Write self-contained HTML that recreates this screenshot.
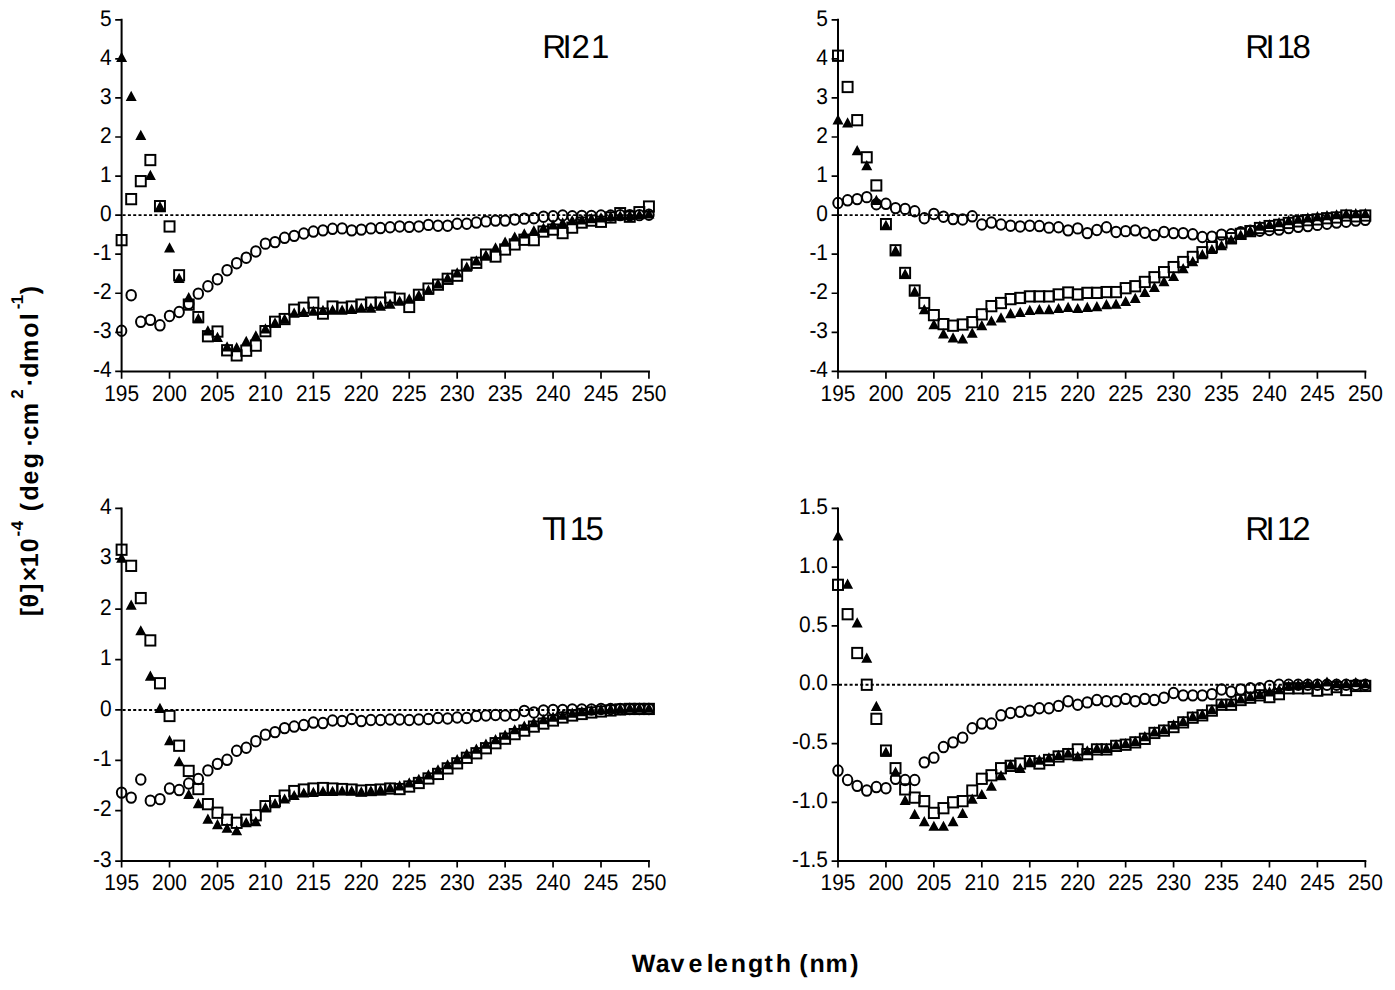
<!DOCTYPE html>
<html lang="en"><head><meta charset="utf-8"><title>CD spectra</title>
<style>
html,body{margin:0;padding:0;background:#fff}
body{width:1395px;height:990px;overflow:hidden}
svg{display:block;font-family:"Liberation Sans",Arial,Helvetica,sans-serif;fill:#000}
</style></head><body>
<svg width="1395" height="990" viewBox="0 0 1395 990" text-rendering="geometricPrecision">
<rect width="1395" height="990" fill="#fff"/>
<g><path d="M121.6 18.8V372.4M120.6 371.4H649.94" stroke="#000" stroke-width="2" fill="none"/>
<path d="M115.2 19.8H121.6M115.2 58.87H121.6M115.2 97.93H121.6M115.2 137H121.6M115.2 176.07H121.6M115.2 215.13H121.6M115.2 254.2H121.6M115.2 293.27H121.6M115.2 332.33H121.6M115.2 371.4H121.6M121.6 371.4V378.7M169.54 371.4V378.7M217.48 371.4V378.7M265.42 371.4V378.7M313.36 371.4V378.7M361.3 371.4V378.7M409.24 371.4V378.7M457.18 371.4V378.7M505.12 371.4V378.7M553.06 371.4V378.7M601 371.4V378.7M648.94 371.4V378.7" stroke="#000" stroke-width="1.7" fill="none"/>
<path d="M122.6 215.13H648.94" stroke="#000" stroke-width="1.9" stroke-dasharray="3 2.3" fill="none"/>
<g font-size="22.6"><text transform="translate(111.6 25.5) scale(0.925 1)" text-anchor="end">5</text><text transform="translate(111.6 64.57) scale(0.925 1)" text-anchor="end">4</text><text transform="translate(111.6 103.63) scale(0.925 1)" text-anchor="end">3</text><text transform="translate(111.6 142.7) scale(0.925 1)" text-anchor="end">2</text><text transform="translate(111.6 181.77) scale(0.925 1)" text-anchor="end">1</text><text transform="translate(111.6 220.83) scale(0.925 1)" text-anchor="end">0</text><text transform="translate(111.6 259.9) scale(0.925 1)" text-anchor="end">-1</text><text transform="translate(111.6 298.97) scale(0.925 1)" text-anchor="end">-2</text><text transform="translate(111.6 338.03) scale(0.925 1)" text-anchor="end">-3</text><text transform="translate(111.6 377.1) scale(0.925 1)" text-anchor="end">-4</text><text transform="translate(121.6 400.9) scale(0.925 1)" text-anchor="middle">195</text><text transform="translate(169.54 400.9) scale(0.925 1)" text-anchor="middle">200</text><text transform="translate(217.48 400.9) scale(0.925 1)" text-anchor="middle">205</text><text transform="translate(265.42 400.9) scale(0.925 1)" text-anchor="middle">210</text><text transform="translate(313.36 400.9) scale(0.925 1)" text-anchor="middle">215</text><text transform="translate(361.3 400.9) scale(0.925 1)" text-anchor="middle">220</text><text transform="translate(409.24 400.9) scale(0.925 1)" text-anchor="middle">225</text><text transform="translate(457.18 400.9) scale(0.925 1)" text-anchor="middle">230</text><text transform="translate(505.12 400.9) scale(0.925 1)" text-anchor="middle">235</text><text transform="translate(553.06 400.9) scale(0.925 1)" text-anchor="middle">240</text><text transform="translate(601 400.9) scale(0.925 1)" text-anchor="middle">245</text><text transform="translate(648.94 400.9) scale(0.925 1)" text-anchor="middle">250</text></g>
<text x="542.3 562.6 571.5 591.05" y="57.8" font-size="33">RI21</text>
<g fill="none" stroke="#000" stroke-width="2"><ellipse cx="121.6" cy="330.77" rx="4.75" ry="5.2"/><ellipse cx="131.19" cy="295.22" rx="4.75" ry="5.2"/><ellipse cx="140.78" cy="321.79" rx="4.75" ry="5.2"/><ellipse cx="150.36" cy="319.83" rx="4.75" ry="5.2"/><ellipse cx="159.95" cy="325.3" rx="4.75" ry="5.2"/><ellipse cx="169.54" cy="315.93" rx="4.75" ry="5.2"/><ellipse cx="179.13" cy="312.02" rx="4.75" ry="5.2"/><ellipse cx="188.72" cy="303.81" rx="4.75" ry="5.2"/><ellipse cx="198.3" cy="293.66" rx="4.75" ry="5.2"/><ellipse cx="207.89" cy="286.23" rx="4.75" ry="5.2"/><ellipse cx="217.48" cy="279.2" rx="4.75" ry="5.2"/><ellipse cx="227.07" cy="270.22" rx="4.75" ry="5.2"/><ellipse cx="236.66" cy="263.19" rx="4.75" ry="5.2"/><ellipse cx="246.24" cy="257.72" rx="4.75" ry="5.2"/><ellipse cx="255.83" cy="251.47" rx="4.75" ry="5.2"/><ellipse cx="265.42" cy="243.65" rx="4.75" ry="5.2"/><ellipse cx="275.01" cy="242.09" rx="4.75" ry="5.2"/><ellipse cx="284.6" cy="237.79" rx="4.75" ry="5.2"/><ellipse cx="294.18" cy="235.84" rx="4.75" ry="5.2"/><ellipse cx="303.77" cy="233.49" rx="4.75" ry="5.2"/><ellipse cx="313.36" cy="231.54" rx="4.75" ry="5.2"/><ellipse cx="322.95" cy="230.37" rx="4.75" ry="5.2"/><ellipse cx="332.54" cy="228.81" rx="4.75" ry="5.2"/><ellipse cx="342.12" cy="228.42" rx="4.75" ry="5.2"/><ellipse cx="351.71" cy="230.37" rx="4.75" ry="5.2"/><ellipse cx="361.3" cy="229.59" rx="4.75" ry="5.2"/><ellipse cx="370.89" cy="228.42" rx="4.75" ry="5.2"/><ellipse cx="380.48" cy="228.03" rx="4.75" ry="5.2"/><ellipse cx="390.06" cy="227.24" rx="4.75" ry="5.2"/><ellipse cx="399.65" cy="226.46" rx="4.75" ry="5.2"/><ellipse cx="409.24" cy="226.85" rx="4.75" ry="5.2"/><ellipse cx="418.83" cy="226.46" rx="4.75" ry="5.2"/><ellipse cx="428.42" cy="224.9" rx="4.75" ry="5.2"/><ellipse cx="438" cy="225.68" rx="4.75" ry="5.2"/><ellipse cx="447.59" cy="225.68" rx="4.75" ry="5.2"/><ellipse cx="457.18" cy="223.73" rx="4.75" ry="5.2"/><ellipse cx="466.77" cy="223.73" rx="4.75" ry="5.2"/><ellipse cx="476.36" cy="222.56" rx="4.75" ry="5.2"/><ellipse cx="485.94" cy="221.38" rx="4.75" ry="5.2"/><ellipse cx="495.53" cy="220.6" rx="4.75" ry="5.2"/><ellipse cx="505.12" cy="220.6" rx="4.75" ry="5.2"/><ellipse cx="514.71" cy="219.43" rx="4.75" ry="5.2"/><ellipse cx="524.3" cy="218.65" rx="4.75" ry="5.2"/><ellipse cx="533.88" cy="218.26" rx="4.75" ry="5.2"/><ellipse cx="543.47" cy="216.7" rx="4.75" ry="5.2"/><ellipse cx="553.06" cy="216.31" rx="4.75" ry="5.2"/><ellipse cx="562.65" cy="215.52" rx="4.75" ry="5.2"/><ellipse cx="572.24" cy="216.31" rx="4.75" ry="5.2"/><ellipse cx="581.82" cy="215.91" rx="4.75" ry="5.2"/><ellipse cx="591.41" cy="215.91" rx="4.75" ry="5.2"/><ellipse cx="601" cy="215.52" rx="4.75" ry="5.2"/><ellipse cx="610.59" cy="215.52" rx="4.75" ry="5.2"/><ellipse cx="620.18" cy="215.13" rx="4.75" ry="5.2"/><ellipse cx="629.76" cy="215.13" rx="4.75" ry="5.2"/><ellipse cx="639.35" cy="215.13" rx="4.75" ry="5.2"/><ellipse cx="648.94" cy="214.74" rx="4.75" ry="5.2"/></g>
<g fill="none" stroke="#000" stroke-width="1.95"><rect x="116.6" y="234.99" width="10" height="10.3"/><rect x="126.19" y="193.97" width="10" height="10.3"/><rect x="135.78" y="176" width="10" height="10.3"/><rect x="145.36" y="154.9" width="10" height="10.3"/><rect x="154.95" y="201" width="10" height="10.3"/><rect x="164.54" y="221.31" width="10" height="10.3"/><rect x="174.13" y="270.15" width="10" height="10.3"/><rect x="183.72" y="299.45" width="10" height="10.3"/><rect x="193.3" y="311.95" width="10" height="10.3"/><rect x="202.89" y="331.09" width="10" height="10.3"/><rect x="212.48" y="326.4" width="10" height="10.3"/><rect x="222.07" y="345.15" width="10" height="10.3"/><rect x="231.66" y="350.23" width="10" height="10.3"/><rect x="241.24" y="345.54" width="10" height="10.3"/><rect x="250.83" y="340.47" width="10" height="10.3"/><rect x="260.42" y="326.01" width="10" height="10.3"/><rect x="270.01" y="316.64" width="10" height="10.3"/><rect x="279.6" y="313.9" width="10" height="10.3"/><rect x="289.18" y="304.52" width="10" height="10.3"/><rect x="298.77" y="302.57" width="10" height="10.3"/><rect x="308.36" y="297.49" width="10" height="10.3"/><rect x="317.95" y="308.43" width="10" height="10.3"/><rect x="327.54" y="301.4" width="10" height="10.3"/><rect x="337.12" y="302.57" width="10" height="10.3"/><rect x="346.71" y="301.4" width="10" height="10.3"/><rect x="356.3" y="299.45" width="10" height="10.3"/><rect x="365.89" y="297.49" width="10" height="10.3"/><rect x="375.48" y="297.49" width="10" height="10.3"/><rect x="385.06" y="292.41" width="10" height="10.3"/><rect x="394.65" y="293.59" width="10" height="10.3"/><rect x="404.24" y="301.79" width="10" height="10.3"/><rect x="413.83" y="289.68" width="10" height="10.3"/><rect x="423.42" y="283.43" width="10" height="10.3"/><rect x="433" y="279.52" width="10" height="10.3"/><rect x="442.59" y="273.66" width="10" height="10.3"/><rect x="452.18" y="270.54" width="10" height="10.3"/><rect x="461.77" y="259.6" width="10" height="10.3"/><rect x="471.36" y="257.64" width="10" height="10.3"/><rect x="480.94" y="249.44" width="10" height="10.3"/><rect x="490.53" y="251.39" width="10" height="10.3"/><rect x="500.12" y="244.36" width="10" height="10.3"/><rect x="509.71" y="239.28" width="10" height="10.3"/><rect x="519.3" y="234.6" width="10" height="10.3"/><rect x="528.88" y="234.99" width="10" height="10.3"/><rect x="538.47" y="226.39" width="10" height="10.3"/><rect x="548.06" y="224.44" width="10" height="10.3"/><rect x="557.65" y="227.95" width="10" height="10.3"/><rect x="567.24" y="222.48" width="10" height="10.3"/><rect x="576.82" y="217.41" width="10" height="10.3"/><rect x="586.41" y="215.45" width="10" height="10.3"/><rect x="596" y="216.62" width="10" height="10.3"/><rect x="605.59" y="212.33" width="10" height="10.3"/><rect x="615.18" y="208.03" width="10" height="10.3"/><rect x="624.76" y="211.55" width="10" height="10.3"/><rect x="634.35" y="207.05" width="10" height="10.3"/><rect x="643.94" y="201.39" width="10" height="10.3"/></g>
<path d="M121.6 51.71l5.5 10.2h-11zM131.19 90.78l5.5 10.2h-11zM140.78 129.85l5.5 10.2h-11zM150.36 169.69l5.5 10.2h-11zM159.95 200.95l5.5 10.2h-11zM169.54 242.36l5.5 10.2h-11zM179.13 272.83l5.5 10.2h-11zM188.72 291.97l5.5 10.2h-11zM198.3 313.07l5.5 10.2h-11zM207.89 325.18l5.5 10.2h-11zM217.48 331.82l5.5 10.2h-11zM227.07 341.2l5.5 10.2h-11zM236.66 341.98l5.5 10.2h-11zM246.24 335.73l5.5 10.2h-11zM255.83 330.26l5.5 10.2h-11zM265.42 323.23l5.5 10.2h-11zM275.01 317.37l5.5 10.2h-11zM284.6 313.46l5.5 10.2h-11zM294.18 307.6l5.5 10.2h-11zM303.77 306.82l5.5 10.2h-11zM313.36 305.65l5.5 10.2h-11zM322.95 304.87l5.5 10.2h-11zM332.54 304.47l5.5 10.2h-11zM342.12 304.47l5.5 10.2h-11zM351.71 303.69l5.5 10.2h-11zM361.3 302.52l5.5 10.2h-11zM370.89 302.52l5.5 10.2h-11zM380.48 300.57l5.5 10.2h-11zM390.06 298.61l5.5 10.2h-11zM399.65 295.49l5.5 10.2h-11zM409.24 293.54l5.5 10.2h-11zM418.83 289.63l5.5 10.2h-11zM428.42 284.55l5.5 10.2h-11zM438 278.3l5.5 10.2h-11zM447.59 272.44l5.5 10.2h-11zM457.18 267.36l5.5 10.2h-11zM466.77 261.5l5.5 10.2h-11zM476.36 255.25l5.5 10.2h-11zM485.94 249.39l5.5 10.2h-11zM495.53 242.36l5.5 10.2h-11zM505.12 236.5l5.5 10.2h-11zM514.71 231.42l5.5 10.2h-11zM524.3 228.29l5.5 10.2h-11zM533.88 225.17l5.5 10.2h-11zM543.47 222.43l5.5 10.2h-11zM553.06 219.31l5.5 10.2h-11zM562.65 217.36l5.5 10.2h-11zM572.24 215.01l5.5 10.2h-11zM581.82 214.23l5.5 10.2h-11zM591.41 213.06l5.5 10.2h-11zM601 212.28l5.5 10.2h-11zM610.59 211.11l5.5 10.2h-11zM620.18 210.32l5.5 10.2h-11zM629.76 209.93l5.5 10.2h-11zM639.35 209.15l5.5 10.2h-11zM648.94 208.18l5.5 10.2h-11z" fill="#000"/></g>
<g><path d="M838 18.8V372.4M837 371.4H1366.34" stroke="#000" stroke-width="2" fill="none"/>
<path d="M831.6 19.8H838M831.6 58.87H838M831.6 97.93H838M831.6 137H838M831.6 176.07H838M831.6 215.13H838M831.6 254.2H838M831.6 293.27H838M831.6 332.33H838M831.6 371.4H838M838 371.4V378.7M885.94 371.4V378.7M933.88 371.4V378.7M981.82 371.4V378.7M1029.76 371.4V378.7M1077.7 371.4V378.7M1125.64 371.4V378.7M1173.58 371.4V378.7M1221.52 371.4V378.7M1269.46 371.4V378.7M1317.4 371.4V378.7M1365.34 371.4V378.7" stroke="#000" stroke-width="1.7" fill="none"/>
<path d="M839 215.13H1365.34" stroke="#000" stroke-width="1.9" stroke-dasharray="3 2.3" fill="none"/>
<g font-size="22.6"><text transform="translate(828 25.5) scale(0.925 1)" text-anchor="end">5</text><text transform="translate(828 64.57) scale(0.925 1)" text-anchor="end">4</text><text transform="translate(828 103.63) scale(0.925 1)" text-anchor="end">3</text><text transform="translate(828 142.7) scale(0.925 1)" text-anchor="end">2</text><text transform="translate(828 181.77) scale(0.925 1)" text-anchor="end">1</text><text transform="translate(828 220.83) scale(0.925 1)" text-anchor="end">0</text><text transform="translate(828 259.9) scale(0.925 1)" text-anchor="end">-1</text><text transform="translate(828 298.97) scale(0.925 1)" text-anchor="end">-2</text><text transform="translate(828 338.03) scale(0.925 1)" text-anchor="end">-3</text><text transform="translate(828 377.1) scale(0.925 1)" text-anchor="end">-4</text><text transform="translate(838 400.9) scale(0.925 1)" text-anchor="middle">195</text><text transform="translate(885.94 400.9) scale(0.925 1)" text-anchor="middle">200</text><text transform="translate(933.88 400.9) scale(0.925 1)" text-anchor="middle">205</text><text transform="translate(981.82 400.9) scale(0.925 1)" text-anchor="middle">210</text><text transform="translate(1029.76 400.9) scale(0.925 1)" text-anchor="middle">215</text><text transform="translate(1077.7 400.9) scale(0.925 1)" text-anchor="middle">220</text><text transform="translate(1125.64 400.9) scale(0.925 1)" text-anchor="middle">225</text><text transform="translate(1173.58 400.9) scale(0.925 1)" text-anchor="middle">230</text><text transform="translate(1221.52 400.9) scale(0.925 1)" text-anchor="middle">235</text><text transform="translate(1269.46 400.9) scale(0.925 1)" text-anchor="middle">240</text><text transform="translate(1317.4 400.9) scale(0.925 1)" text-anchor="middle">245</text><text transform="translate(1365.34 400.9) scale(0.925 1)" text-anchor="middle">250</text></g>
<text x="1245.2 1265.4 1276.7 1292.5" y="57.8" font-size="33">RI18</text>
<g fill="none" stroke="#000" stroke-width="2"><ellipse cx="838" cy="203.02" rx="4.75" ry="5.2"/><ellipse cx="847.59" cy="200.29" rx="4.75" ry="5.2"/><ellipse cx="857.18" cy="199.12" rx="4.75" ry="5.2"/><ellipse cx="866.76" cy="197.16" rx="4.75" ry="5.2"/><ellipse cx="876.35" cy="204.19" rx="4.75" ry="5.2"/><ellipse cx="885.94" cy="203.8" rx="4.75" ry="5.2"/><ellipse cx="895.53" cy="208.1" rx="4.75" ry="5.2"/><ellipse cx="905.12" cy="208.88" rx="4.75" ry="5.2"/><ellipse cx="914.7" cy="211.23" rx="4.75" ry="5.2"/><ellipse cx="924.29" cy="218.26" rx="4.75" ry="5.2"/><ellipse cx="933.88" cy="213.96" rx="4.75" ry="5.2"/><ellipse cx="943.47" cy="216.7" rx="4.75" ry="5.2"/><ellipse cx="953.06" cy="219.04" rx="4.75" ry="5.2"/><ellipse cx="962.64" cy="219.43" rx="4.75" ry="5.2"/><ellipse cx="972.23" cy="216.31" rx="4.75" ry="5.2"/><ellipse cx="981.82" cy="224.51" rx="4.75" ry="5.2"/><ellipse cx="991.41" cy="222.56" rx="4.75" ry="5.2"/><ellipse cx="1001" cy="224.51" rx="4.75" ry="5.2"/><ellipse cx="1010.58" cy="225.68" rx="4.75" ry="5.2"/><ellipse cx="1020.17" cy="226.46" rx="4.75" ry="5.2"/><ellipse cx="1029.76" cy="225.68" rx="4.75" ry="5.2"/><ellipse cx="1039.35" cy="226.07" rx="4.75" ry="5.2"/><ellipse cx="1048.94" cy="227.63" rx="4.75" ry="5.2"/><ellipse cx="1058.52" cy="227.24" rx="4.75" ry="5.2"/><ellipse cx="1068.11" cy="230.37" rx="4.75" ry="5.2"/><ellipse cx="1077.7" cy="228.42" rx="4.75" ry="5.2"/><ellipse cx="1087.29" cy="233.1" rx="4.75" ry="5.2"/><ellipse cx="1096.88" cy="229.98" rx="4.75" ry="5.2"/><ellipse cx="1106.46" cy="227.24" rx="4.75" ry="5.2"/><ellipse cx="1116.05" cy="231.93" rx="4.75" ry="5.2"/><ellipse cx="1125.64" cy="231.15" rx="4.75" ry="5.2"/><ellipse cx="1135.23" cy="230.37" rx="4.75" ry="5.2"/><ellipse cx="1144.82" cy="232.71" rx="4.75" ry="5.2"/><ellipse cx="1154.4" cy="235.06" rx="4.75" ry="5.2"/><ellipse cx="1163.99" cy="231.93" rx="4.75" ry="5.2"/><ellipse cx="1173.58" cy="233.1" rx="4.75" ry="5.2"/><ellipse cx="1183.17" cy="233.1" rx="4.75" ry="5.2"/><ellipse cx="1192.76" cy="234.28" rx="4.75" ry="5.2"/><ellipse cx="1202.34" cy="237.01" rx="4.75" ry="5.2"/><ellipse cx="1211.93" cy="236.62" rx="4.75" ry="5.2"/><ellipse cx="1221.52" cy="234.67" rx="4.75" ry="5.2"/><ellipse cx="1231.11" cy="234.28" rx="4.75" ry="5.2"/><ellipse cx="1240.7" cy="232.32" rx="4.75" ry="5.2"/><ellipse cx="1250.28" cy="230.76" rx="4.75" ry="5.2"/><ellipse cx="1259.87" cy="230.76" rx="4.75" ry="5.2"/><ellipse cx="1269.46" cy="229.98" rx="4.75" ry="5.2"/><ellipse cx="1279.05" cy="229.59" rx="4.75" ry="5.2"/><ellipse cx="1288.64" cy="228.03" rx="4.75" ry="5.2"/><ellipse cx="1298.22" cy="226.85" rx="4.75" ry="5.2"/><ellipse cx="1307.81" cy="226.07" rx="4.75" ry="5.2"/><ellipse cx="1317.4" cy="224.9" rx="4.75" ry="5.2"/><ellipse cx="1326.99" cy="223.73" rx="4.75" ry="5.2"/><ellipse cx="1336.58" cy="222.56" rx="4.75" ry="5.2"/><ellipse cx="1346.16" cy="221.77" rx="4.75" ry="5.2"/><ellipse cx="1355.75" cy="220.6" rx="4.75" ry="5.2"/><ellipse cx="1365.34" cy="219.82" rx="4.75" ry="5.2"/></g>
<g fill="none" stroke="#000" stroke-width="1.95"><rect x="833" y="50.59" width="10" height="10.3"/><rect x="842.59" y="81.84" width="10" height="10.3"/><rect x="852.18" y="115.05" width="10" height="10.3"/><rect x="861.76" y="152.16" width="10" height="10.3"/><rect x="871.35" y="180.29" width="10" height="10.3"/><rect x="880.94" y="218.97" width="10" height="10.3"/><rect x="890.53" y="245.14" width="10" height="10.3"/><rect x="900.12" y="267.8" width="10" height="10.3"/><rect x="909.7" y="285.38" width="10" height="10.3"/><rect x="919.29" y="297.88" width="10" height="10.3"/><rect x="928.88" y="309.99" width="10" height="10.3"/><rect x="938.47" y="318.98" width="10" height="10.3"/><rect x="948.06" y="320.54" width="10" height="10.3"/><rect x="957.64" y="319.37" width="10" height="10.3"/><rect x="967.23" y="317.03" width="10" height="10.3"/><rect x="976.82" y="309.21" width="10" height="10.3"/><rect x="986.41" y="301.01" width="10" height="10.3"/><rect x="996" y="297.88" width="10" height="10.3"/><rect x="1005.58" y="293.98" width="10" height="10.3"/><rect x="1015.17" y="292.8" width="10" height="10.3"/><rect x="1024.76" y="291.24" width="10" height="10.3"/><rect x="1034.35" y="291.24" width="10" height="10.3"/><rect x="1043.94" y="291.24" width="10" height="10.3"/><rect x="1053.52" y="289.29" width="10" height="10.3"/><rect x="1063.11" y="287.34" width="10" height="10.3"/><rect x="1072.7" y="289.29" width="10" height="10.3"/><rect x="1082.29" y="287.73" width="10" height="10.3"/><rect x="1091.88" y="287.73" width="10" height="10.3"/><rect x="1101.46" y="286.94" width="10" height="10.3"/><rect x="1111.05" y="286.94" width="10" height="10.3"/><rect x="1120.64" y="283.04" width="10" height="10.3"/><rect x="1130.23" y="281.08" width="10" height="10.3"/><rect x="1139.82" y="276.79" width="10" height="10.3"/><rect x="1149.4" y="272.1" width="10" height="10.3"/><rect x="1158.99" y="267.02" width="10" height="10.3"/><rect x="1168.58" y="261.94" width="10" height="10.3"/><rect x="1178.17" y="256.86" width="10" height="10.3"/><rect x="1187.76" y="251.78" width="10" height="10.3"/><rect x="1197.34" y="247.1" width="10" height="10.3"/><rect x="1206.93" y="242.02" width="10" height="10.3"/><rect x="1216.52" y="237.33" width="10" height="10.3"/><rect x="1226.11" y="233.03" width="10" height="10.3"/><rect x="1235.7" y="228.74" width="10" height="10.3"/><rect x="1245.28" y="226" width="10" height="10.3"/><rect x="1254.87" y="222.88" width="10" height="10.3"/><rect x="1264.46" y="220.92" width="10" height="10.3"/><rect x="1274.05" y="219.75" width="10" height="10.3"/><rect x="1283.64" y="217.8" width="10" height="10.3"/><rect x="1293.22" y="216.23" width="10" height="10.3"/><rect x="1302.81" y="215.06" width="10" height="10.3"/><rect x="1312.4" y="214.28" width="10" height="10.3"/><rect x="1321.99" y="213.11" width="10" height="10.3"/><rect x="1331.58" y="212.33" width="10" height="10.3"/><rect x="1341.16" y="210.37" width="10" height="10.3"/><rect x="1350.75" y="211.16" width="10" height="10.3"/><rect x="1360.34" y="210.37" width="10" height="10.3"/></g>
<path d="M838 114.22l5.5 10.2h-11zM847.59 117.35l5.5 10.2h-11zM857.18 145.08l5.5 10.2h-11zM866.76 159.93l5.5 10.2h-11zM876.35 194.7l5.5 10.2h-11zM885.94 219.7l5.5 10.2h-11zM895.53 245.09l5.5 10.2h-11zM905.12 268.53l5.5 10.2h-11zM914.7 286.11l5.5 10.2h-11zM924.29 304.08l5.5 10.2h-11zM933.88 318.93l5.5 10.2h-11zM943.47 328.31l5.5 10.2h-11zM953.06 332.21l5.5 10.2h-11zM962.64 333.38l5.5 10.2h-11zM972.23 327.52l5.5 10.2h-11zM981.82 320.1l5.5 10.2h-11zM991.41 315.41l5.5 10.2h-11zM1001 312.29l5.5 10.2h-11zM1010.58 307.99l5.5 10.2h-11zM1020.17 306.82l5.5 10.2h-11zM1029.76 304.87l5.5 10.2h-11zM1039.35 304.08l5.5 10.2h-11zM1048.94 304.08l5.5 10.2h-11zM1058.52 302.91l5.5 10.2h-11zM1068.11 301.74l5.5 10.2h-11zM1077.7 302.91l5.5 10.2h-11zM1087.29 301.74l5.5 10.2h-11zM1096.88 300.96l5.5 10.2h-11zM1106.46 299.01l5.5 10.2h-11zM1116.05 298.61l5.5 10.2h-11zM1125.64 295.88l5.5 10.2h-11zM1135.23 292.75l5.5 10.2h-11zM1144.82 286.89l5.5 10.2h-11zM1154.4 281.82l5.5 10.2h-11zM1163.99 275.96l5.5 10.2h-11zM1173.58 270.88l5.5 10.2h-11zM1183.17 263.06l5.5 10.2h-11zM1192.76 256.03l5.5 10.2h-11zM1202.34 249l5.5 10.2h-11zM1211.93 243.92l5.5 10.2h-11zM1221.52 240.01l5.5 10.2h-11zM1231.11 234.15l5.5 10.2h-11zM1240.7 229.47l5.5 10.2h-11zM1250.28 225.17l5.5 10.2h-11zM1259.87 220.48l5.5 10.2h-11zM1269.46 218.92l5.5 10.2h-11zM1279.05 216.97l5.5 10.2h-11zM1288.64 215.01l5.5 10.2h-11zM1298.22 213.45l5.5 10.2h-11zM1307.81 212.28l5.5 10.2h-11zM1317.4 211.11l5.5 10.2h-11zM1326.99 209.93l5.5 10.2h-11zM1336.58 209.15l5.5 10.2h-11zM1346.16 208.37l5.5 10.2h-11zM1355.75 207.98l5.5 10.2h-11zM1365.34 207.98l5.5 10.2h-11z" fill="#000"/></g>
<g><path d="M121.6 507.4V862.1M120.6 861.1H649.94" stroke="#000" stroke-width="2" fill="none"/>
<path d="M115.2 508.4H121.6M115.2 558.79H121.6M115.2 609.17H121.6M115.2 659.56H121.6M115.2 709.94H121.6M115.2 760.33H121.6M115.2 810.71H121.6M115.2 861.1H121.6M121.6 861.1V867.5M169.54 861.1V867.5M217.48 861.1V867.5M265.42 861.1V867.5M313.36 861.1V867.5M361.3 861.1V867.5M409.24 861.1V867.5M457.18 861.1V867.5M505.12 861.1V867.5M553.06 861.1V867.5M601 861.1V867.5M648.94 861.1V867.5" stroke="#000" stroke-width="1.7" fill="none"/>
<path d="M122.6 709.94H648.94" stroke="#000" stroke-width="1.9" stroke-dasharray="3 2.3" fill="none"/>
<g font-size="22.6"><text transform="translate(111.6 514.1) scale(0.925 1)" text-anchor="end">4</text><text transform="translate(111.6 564.49) scale(0.925 1)" text-anchor="end">3</text><text transform="translate(111.6 614.87) scale(0.925 1)" text-anchor="end">2</text><text transform="translate(111.6 665.26) scale(0.925 1)" text-anchor="end">1</text><text transform="translate(111.6 715.64) scale(0.925 1)" text-anchor="end">0</text><text transform="translate(111.6 766.03) scale(0.925 1)" text-anchor="end">-1</text><text transform="translate(111.6 816.41) scale(0.925 1)" text-anchor="end">-2</text><text transform="translate(111.6 866.8) scale(0.925 1)" text-anchor="end">-3</text><text transform="translate(121.6 889.6) scale(0.925 1)" text-anchor="middle">195</text><text transform="translate(169.54 889.6) scale(0.925 1)" text-anchor="middle">200</text><text transform="translate(217.48 889.6) scale(0.925 1)" text-anchor="middle">205</text><text transform="translate(265.42 889.6) scale(0.925 1)" text-anchor="middle">210</text><text transform="translate(313.36 889.6) scale(0.925 1)" text-anchor="middle">215</text><text transform="translate(361.3 889.6) scale(0.925 1)" text-anchor="middle">220</text><text transform="translate(409.24 889.6) scale(0.925 1)" text-anchor="middle">225</text><text transform="translate(457.18 889.6) scale(0.925 1)" text-anchor="middle">230</text><text transform="translate(505.12 889.6) scale(0.925 1)" text-anchor="middle">235</text><text transform="translate(553.06 889.6) scale(0.925 1)" text-anchor="middle">240</text><text transform="translate(601 889.6) scale(0.925 1)" text-anchor="middle">245</text><text transform="translate(648.94 889.6) scale(0.925 1)" text-anchor="middle">250</text></g>
<text x="542.3 558.2 569.8 585.5" y="540.1" font-size="33">TI15</text>
<g fill="none" stroke="#000" stroke-width="2"><ellipse cx="121.6" cy="792.58" rx="4.75" ry="5.2"/><ellipse cx="131.19" cy="797.61" rx="4.75" ry="5.2"/><ellipse cx="140.78" cy="779.48" rx="4.75" ry="5.2"/><ellipse cx="150.36" cy="800.64" rx="4.75" ry="5.2"/><ellipse cx="159.95" cy="799.13" rx="4.75" ry="5.2"/><ellipse cx="169.54" cy="788.54" rx="4.75" ry="5.2"/><ellipse cx="179.13" cy="790.06" rx="4.75" ry="5.2"/><ellipse cx="188.72" cy="783.51" rx="4.75" ry="5.2"/><ellipse cx="198.3" cy="778.97" rx="4.75" ry="5.2"/><ellipse cx="207.89" cy="770.41" rx="4.75" ry="5.2"/><ellipse cx="217.48" cy="763.86" rx="4.75" ry="5.2"/><ellipse cx="227.07" cy="759.82" rx="4.75" ry="5.2"/><ellipse cx="236.66" cy="750.76" rx="4.75" ry="5.2"/><ellipse cx="246.24" cy="747.73" rx="4.75" ry="5.2"/><ellipse cx="255.83" cy="741.18" rx="4.75" ry="5.2"/><ellipse cx="265.42" cy="734.63" rx="4.75" ry="5.2"/><ellipse cx="275.01" cy="732.11" rx="4.75" ry="5.2"/><ellipse cx="284.6" cy="728.08" rx="4.75" ry="5.2"/><ellipse cx="294.18" cy="726.57" rx="4.75" ry="5.2"/><ellipse cx="303.77" cy="725.06" rx="4.75" ry="5.2"/><ellipse cx="313.36" cy="722.54" rx="4.75" ry="5.2"/><ellipse cx="322.95" cy="723.04" rx="4.75" ry="5.2"/><ellipse cx="332.54" cy="720.52" rx="4.75" ry="5.2"/><ellipse cx="342.12" cy="721.03" rx="4.75" ry="5.2"/><ellipse cx="351.71" cy="719.01" rx="4.75" ry="5.2"/><ellipse cx="361.3" cy="721.03" rx="4.75" ry="5.2"/><ellipse cx="370.89" cy="720.02" rx="4.75" ry="5.2"/><ellipse cx="380.48" cy="720.02" rx="4.75" ry="5.2"/><ellipse cx="390.06" cy="719.52" rx="4.75" ry="5.2"/><ellipse cx="399.65" cy="719.52" rx="4.75" ry="5.2"/><ellipse cx="409.24" cy="720.02" rx="4.75" ry="5.2"/><ellipse cx="418.83" cy="719.52" rx="4.75" ry="5.2"/><ellipse cx="428.42" cy="719.01" rx="4.75" ry="5.2"/><ellipse cx="438" cy="718" rx="4.75" ry="5.2"/><ellipse cx="447.59" cy="718.51" rx="4.75" ry="5.2"/><ellipse cx="457.18" cy="717.5" rx="4.75" ry="5.2"/><ellipse cx="466.77" cy="718" rx="4.75" ry="5.2"/><ellipse cx="476.36" cy="715.99" rx="4.75" ry="5.2"/><ellipse cx="485.94" cy="715.49" rx="4.75" ry="5.2"/><ellipse cx="495.53" cy="714.98" rx="4.75" ry="5.2"/><ellipse cx="505.12" cy="715.49" rx="4.75" ry="5.2"/><ellipse cx="514.71" cy="714.98" rx="4.75" ry="5.2"/><ellipse cx="524.3" cy="710.95" rx="4.75" ry="5.2"/><ellipse cx="533.88" cy="712.46" rx="4.75" ry="5.2"/><ellipse cx="543.47" cy="710.45" rx="4.75" ry="5.2"/><ellipse cx="553.06" cy="709.94" rx="4.75" ry="5.2"/><ellipse cx="562.65" cy="709.94" rx="4.75" ry="5.2"/><ellipse cx="572.24" cy="709.44" rx="4.75" ry="5.2"/><ellipse cx="581.82" cy="709.44" rx="4.75" ry="5.2"/><ellipse cx="591.41" cy="709.44" rx="4.75" ry="5.2"/><ellipse cx="601" cy="708.94" rx="4.75" ry="5.2"/><ellipse cx="610.59" cy="708.94" rx="4.75" ry="5.2"/><ellipse cx="620.18" cy="708.94" rx="4.75" ry="5.2"/><ellipse cx="629.76" cy="708.94" rx="4.75" ry="5.2"/><ellipse cx="639.35" cy="708.94" rx="4.75" ry="5.2"/><ellipse cx="648.94" cy="708.94" rx="4.75" ry="5.2"/></g>
<g fill="none" stroke="#000" stroke-width="1.95"><rect x="116.6" y="544.57" width="10" height="10.3"/><rect x="126.19" y="560.69" width="10" height="10.3"/><rect x="135.78" y="592.94" width="10" height="10.3"/><rect x="145.36" y="635.26" width="10" height="10.3"/><rect x="154.95" y="678.09" width="10" height="10.3"/><rect x="164.54" y="710.84" width="10" height="10.3"/><rect x="174.13" y="740.57" width="10" height="10.3"/><rect x="183.72" y="765.76" width="10" height="10.3"/><rect x="193.3" y="783.9" width="10" height="10.3"/><rect x="202.89" y="799.01" width="10" height="10.3"/><rect x="212.48" y="807.58" width="10" height="10.3"/><rect x="222.07" y="814.63" width="10" height="10.3"/><rect x="231.66" y="817.66" width="10" height="10.3"/><rect x="241.24" y="814.63" width="10" height="10.3"/><rect x="250.83" y="810.1" width="10" height="10.3"/><rect x="260.42" y="801.03" width="10" height="10.3"/><rect x="270.01" y="795.99" width="10" height="10.3"/><rect x="279.6" y="790.45" width="10" height="10.3"/><rect x="289.18" y="785.91" width="10" height="10.3"/><rect x="298.77" y="784.4" width="10" height="10.3"/><rect x="308.36" y="783.39" width="10" height="10.3"/><rect x="317.95" y="782.89" width="10" height="10.3"/><rect x="327.54" y="783.39" width="10" height="10.3"/><rect x="337.12" y="783.9" width="10" height="10.3"/><rect x="346.71" y="784.4" width="10" height="10.3"/><rect x="356.3" y="785.41" width="10" height="10.3"/><rect x="365.89" y="784.91" width="10" height="10.3"/><rect x="375.48" y="784.4" width="10" height="10.3"/><rect x="385.06" y="783.39" width="10" height="10.3"/><rect x="394.65" y="783.9" width="10" height="10.3"/><rect x="404.24" y="781.38" width="10" height="10.3"/><rect x="413.83" y="777.85" width="10" height="10.3"/><rect x="423.42" y="773.32" width="10" height="10.3"/><rect x="433" y="768.78" width="10" height="10.3"/><rect x="442.59" y="763.24" width="10" height="10.3"/><rect x="452.18" y="758.2" width="10" height="10.3"/><rect x="461.77" y="752.66" width="10" height="10.3"/><rect x="471.36" y="748.12" width="10" height="10.3"/><rect x="480.94" y="743.09" width="10" height="10.3"/><rect x="490.53" y="738.05" width="10" height="10.3"/><rect x="500.12" y="733.51" width="10" height="10.3"/><rect x="509.71" y="728.98" width="10" height="10.3"/><rect x="519.3" y="725.45" width="10" height="10.3"/><rect x="528.88" y="721.42" width="10" height="10.3"/><rect x="538.47" y="718.4" width="10" height="10.3"/><rect x="548.06" y="715.37" width="10" height="10.3"/><rect x="557.65" y="712.35" width="10" height="10.3"/><rect x="567.24" y="710.34" width="10" height="10.3"/><rect x="576.82" y="708.82" width="10" height="10.3"/><rect x="586.41" y="707.31" width="10" height="10.3"/><rect x="596" y="706.3" width="10" height="10.3"/><rect x="605.59" y="705.3" width="10" height="10.3"/><rect x="615.18" y="704.29" width="10" height="10.3"/><rect x="624.76" y="703.79" width="10" height="10.3"/><rect x="634.35" y="703.79" width="10" height="10.3"/><rect x="643.94" y="703.79" width="10" height="10.3"/></g>
<path d="M121.6 552.58l5.5 10.2h-11zM131.19 599.44l5.5 10.2h-11zM140.78 625.13l5.5 10.2h-11zM150.36 670.48l5.5 10.2h-11zM159.95 702.73l5.5 10.2h-11zM169.54 734.97l5.5 10.2h-11zM179.13 756.14l5.5 10.2h-11zM188.72 788.89l5.5 10.2h-11zM198.3 797.96l5.5 10.2h-11zM207.89 813.58l5.5 10.2h-11zM217.48 819.12l5.5 10.2h-11zM227.07 822.65l5.5 10.2h-11zM236.66 825.16l5.5 10.2h-11zM246.24 817.1l5.5 10.2h-11zM255.83 816.1l5.5 10.2h-11zM265.42 801.99l5.5 10.2h-11zM275.01 797.96l5.5 10.2h-11zM284.6 793.42l5.5 10.2h-11zM294.18 789.89l5.5 10.2h-11zM303.77 787.38l5.5 10.2h-11zM313.36 786.87l5.5 10.2h-11zM322.95 785.86l5.5 10.2h-11zM332.54 785.86l5.5 10.2h-11zM342.12 785.36l5.5 10.2h-11zM351.71 785.36l5.5 10.2h-11zM361.3 786.37l5.5 10.2h-11zM370.89 785.36l5.5 10.2h-11zM380.48 784.35l5.5 10.2h-11zM390.06 782.34l5.5 10.2h-11zM399.65 780.32l5.5 10.2h-11zM409.24 777.3l5.5 10.2h-11zM418.83 773.77l5.5 10.2h-11zM428.42 769.24l5.5 10.2h-11zM438 764.2l5.5 10.2h-11zM447.59 759.16l5.5 10.2h-11zM457.18 754.12l5.5 10.2h-11zM466.77 748.58l5.5 10.2h-11zM476.36 743.54l5.5 10.2h-11zM485.94 738.5l5.5 10.2h-11zM495.53 733.97l5.5 10.2h-11zM505.12 729.43l5.5 10.2h-11zM514.71 724.14l5.5 10.2h-11zM524.3 720.61l5.5 10.2h-11zM533.88 717.09l5.5 10.2h-11zM543.47 714.06l5.5 10.2h-11zM553.06 711.54l5.5 10.2h-11zM562.65 709.53l5.5 10.2h-11zM572.24 707.51l5.5 10.2h-11zM581.82 706l5.5 10.2h-11zM591.41 704.99l5.5 10.2h-11zM601 703.99l5.5 10.2h-11zM610.59 703.48l5.5 10.2h-11zM620.18 702.98l5.5 10.2h-11zM629.76 702.48l5.5 10.2h-11zM639.35 702.48l5.5 10.2h-11zM648.94 702.48l5.5 10.2h-11z" fill="#000"/></g>
<g><path d="M838 507.4V862.1M837 861.1H1366.34" stroke="#000" stroke-width="2" fill="none"/>
<path d="M831.6 508.4H838M831.6 567.18H838M831.6 625.97H838M831.6 684.75H838M831.6 743.53H838M831.6 802.32H838M831.6 861.1H838M838 861.1V867.5M885.94 861.1V867.5M933.88 861.1V867.5M981.82 861.1V867.5M1029.76 861.1V867.5M1077.7 861.1V867.5M1125.64 861.1V867.5M1173.58 861.1V867.5M1221.52 861.1V867.5M1269.46 861.1V867.5M1317.4 861.1V867.5M1365.34 861.1V867.5" stroke="#000" stroke-width="1.7" fill="none"/>
<path d="M839 684.75H1365.34" stroke="#000" stroke-width="1.9" stroke-dasharray="3 2.3" fill="none"/>
<g font-size="22.6"><text transform="translate(828 514.1) scale(0.925 1)" text-anchor="end">1.5</text><text transform="translate(828 572.88) scale(0.925 1)" text-anchor="end">1.0</text><text transform="translate(828 631.67) scale(0.925 1)" text-anchor="end">0.5</text><text transform="translate(828 690.45) scale(0.925 1)" text-anchor="end">0.0</text><text transform="translate(828 749.23) scale(0.925 1)" text-anchor="end">-0.5</text><text transform="translate(828 808.02) scale(0.925 1)" text-anchor="end">-1.0</text><text transform="translate(828 866.8) scale(0.925 1)" text-anchor="end">-1.5</text><text transform="translate(838 889.6) scale(0.925 1)" text-anchor="middle">195</text><text transform="translate(885.94 889.6) scale(0.925 1)" text-anchor="middle">200</text><text transform="translate(933.88 889.6) scale(0.925 1)" text-anchor="middle">205</text><text transform="translate(981.82 889.6) scale(0.925 1)" text-anchor="middle">210</text><text transform="translate(1029.76 889.6) scale(0.925 1)" text-anchor="middle">215</text><text transform="translate(1077.7 889.6) scale(0.925 1)" text-anchor="middle">220</text><text transform="translate(1125.64 889.6) scale(0.925 1)" text-anchor="middle">225</text><text transform="translate(1173.58 889.6) scale(0.925 1)" text-anchor="middle">230</text><text transform="translate(1221.52 889.6) scale(0.925 1)" text-anchor="middle">235</text><text transform="translate(1269.46 889.6) scale(0.925 1)" text-anchor="middle">240</text><text transform="translate(1317.4 889.6) scale(0.925 1)" text-anchor="middle">245</text><text transform="translate(1365.34 889.6) scale(0.925 1)" text-anchor="middle">250</text></g>
<text x="1245.2 1265.4 1276.7 1292.2" y="540.1" font-size="33">RI12</text>
<g fill="none" stroke="#000" stroke-width="2"><ellipse cx="838" cy="770.57" rx="4.75" ry="5.2"/><ellipse cx="847.59" cy="779.98" rx="4.75" ry="5.2"/><ellipse cx="857.18" cy="785.86" rx="4.75" ry="5.2"/><ellipse cx="866.76" cy="790.56" rx="4.75" ry="5.2"/><ellipse cx="876.35" cy="787.03" rx="4.75" ry="5.2"/><ellipse cx="885.94" cy="788.21" rx="4.75" ry="5.2"/><ellipse cx="895.53" cy="778.8" rx="4.75" ry="5.2"/><ellipse cx="905.12" cy="779.98" rx="4.75" ry="5.2"/><ellipse cx="914.7" cy="779.98" rx="4.75" ry="5.2"/><ellipse cx="924.29" cy="762.34" rx="4.75" ry="5.2"/><ellipse cx="933.88" cy="757.64" rx="4.75" ry="5.2"/><ellipse cx="943.47" cy="747.06" rx="4.75" ry="5.2"/><ellipse cx="953.06" cy="742.36" rx="4.75" ry="5.2"/><ellipse cx="962.64" cy="737.65" rx="4.75" ry="5.2"/><ellipse cx="972.23" cy="728.25" rx="4.75" ry="5.2"/><ellipse cx="981.82" cy="723.55" rx="4.75" ry="5.2"/><ellipse cx="991.41" cy="723.55" rx="4.75" ry="5.2"/><ellipse cx="1001" cy="715.32" rx="4.75" ry="5.2"/><ellipse cx="1010.58" cy="712.97" rx="4.75" ry="5.2"/><ellipse cx="1020.17" cy="711.79" rx="4.75" ry="5.2"/><ellipse cx="1029.76" cy="710.61" rx="4.75" ry="5.2"/><ellipse cx="1039.35" cy="708.26" rx="4.75" ry="5.2"/><ellipse cx="1048.94" cy="708.26" rx="4.75" ry="5.2"/><ellipse cx="1058.52" cy="705.91" rx="4.75" ry="5.2"/><ellipse cx="1068.11" cy="701.21" rx="4.75" ry="5.2"/><ellipse cx="1077.7" cy="704.74" rx="4.75" ry="5.2"/><ellipse cx="1087.29" cy="702.38" rx="4.75" ry="5.2"/><ellipse cx="1096.88" cy="700.03" rx="4.75" ry="5.2"/><ellipse cx="1106.46" cy="701.21" rx="4.75" ry="5.2"/><ellipse cx="1116.05" cy="701.21" rx="4.75" ry="5.2"/><ellipse cx="1125.64" cy="698.86" rx="4.75" ry="5.2"/><ellipse cx="1135.23" cy="701.21" rx="4.75" ry="5.2"/><ellipse cx="1144.82" cy="698.86" rx="4.75" ry="5.2"/><ellipse cx="1154.4" cy="700.03" rx="4.75" ry="5.2"/><ellipse cx="1163.99" cy="697.68" rx="4.75" ry="5.2"/><ellipse cx="1173.58" cy="692.98" rx="4.75" ry="5.2"/><ellipse cx="1183.17" cy="695.33" rx="4.75" ry="5.2"/><ellipse cx="1192.76" cy="695.33" rx="4.75" ry="5.2"/><ellipse cx="1202.34" cy="695.33" rx="4.75" ry="5.2"/><ellipse cx="1211.93" cy="694.16" rx="4.75" ry="5.2"/><ellipse cx="1221.52" cy="689.45" rx="4.75" ry="5.2"/><ellipse cx="1231.11" cy="691.8" rx="4.75" ry="5.2"/><ellipse cx="1240.7" cy="689.45" rx="4.75" ry="5.2"/><ellipse cx="1250.28" cy="688.28" rx="4.75" ry="5.2"/><ellipse cx="1259.87" cy="688.28" rx="4.75" ry="5.2"/><ellipse cx="1269.46" cy="685.93" rx="4.75" ry="5.2"/><ellipse cx="1279.05" cy="684.75" rx="4.75" ry="5.2"/><ellipse cx="1288.64" cy="684.75" rx="4.75" ry="5.2"/><ellipse cx="1298.22" cy="684.75" rx="4.75" ry="5.2"/><ellipse cx="1307.81" cy="684.75" rx="4.75" ry="5.2"/><ellipse cx="1317.4" cy="684.75" rx="4.75" ry="5.2"/><ellipse cx="1326.99" cy="684.75" rx="4.75" ry="5.2"/><ellipse cx="1336.58" cy="684.75" rx="4.75" ry="5.2"/><ellipse cx="1346.16" cy="684.75" rx="4.75" ry="5.2"/><ellipse cx="1355.75" cy="684.75" rx="4.75" ry="5.2"/><ellipse cx="1365.34" cy="684.75" rx="4.75" ry="5.2"/></g>
<g fill="none" stroke="#000" stroke-width="1.95"><rect x="833" y="579.67" width="10" height="10.3"/><rect x="842.59" y="609.06" width="10" height="10.3"/><rect x="852.18" y="647.86" width="10" height="10.3"/><rect x="861.76" y="679.6" width="10" height="10.3"/><rect x="871.35" y="713.69" width="10" height="10.3"/><rect x="880.94" y="745.44" width="10" height="10.3"/><rect x="890.53" y="763.07" width="10" height="10.3"/><rect x="900.12" y="784.23" width="10" height="10.3"/><rect x="909.7" y="792.46" width="10" height="10.3"/><rect x="919.29" y="795.99" width="10" height="10.3"/><rect x="928.88" y="807.75" width="10" height="10.3"/><rect x="938.47" y="803.04" width="10" height="10.3"/><rect x="948.06" y="797.17" width="10" height="10.3"/><rect x="957.64" y="795.99" width="10" height="10.3"/><rect x="967.23" y="785.41" width="10" height="10.3"/><rect x="976.82" y="773.65" width="10" height="10.3"/><rect x="986.41" y="770.13" width="10" height="10.3"/><rect x="996" y="763.07" width="10" height="10.3"/><rect x="1005.58" y="760.72" width="10" height="10.3"/><rect x="1015.17" y="758.37" width="10" height="10.3"/><rect x="1024.76" y="756.02" width="10" height="10.3"/><rect x="1034.35" y="758.37" width="10" height="10.3"/><rect x="1043.94" y="754.84" width="10" height="10.3"/><rect x="1053.52" y="751.32" width="10" height="10.3"/><rect x="1063.11" y="748.96" width="10" height="10.3"/><rect x="1072.7" y="744.26" width="10" height="10.3"/><rect x="1082.29" y="748.96" width="10" height="10.3"/><rect x="1091.88" y="744.26" width="10" height="10.3"/><rect x="1101.46" y="744.26" width="10" height="10.3"/><rect x="1111.05" y="740.73" width="10" height="10.3"/><rect x="1120.64" y="739.56" width="10" height="10.3"/><rect x="1130.23" y="737.21" width="10" height="10.3"/><rect x="1139.82" y="733.68" width="10" height="10.3"/><rect x="1149.4" y="727.8" width="10" height="10.3"/><rect x="1158.99" y="725.45" width="10" height="10.3"/><rect x="1168.58" y="721.92" width="10" height="10.3"/><rect x="1178.17" y="717.22" width="10" height="10.3"/><rect x="1187.76" y="712.52" width="10" height="10.3"/><rect x="1197.34" y="710.17" width="10" height="10.3"/><rect x="1206.93" y="705.46" width="10" height="10.3"/><rect x="1216.52" y="699.59" width="10" height="10.3"/><rect x="1226.11" y="699.59" width="10" height="10.3"/><rect x="1235.7" y="694.88" width="10" height="10.3"/><rect x="1245.28" y="692.53" width="10" height="10.3"/><rect x="1254.87" y="690.18" width="10" height="10.3"/><rect x="1264.46" y="691.94" width="10" height="10.3"/><rect x="1274.05" y="689.01" width="10" height="10.3"/><rect x="1283.64" y="683.13" width="10" height="10.3"/><rect x="1293.22" y="683.13" width="10" height="10.3"/><rect x="1302.81" y="683.13" width="10" height="10.3"/><rect x="1312.4" y="685.48" width="10" height="10.3"/><rect x="1321.99" y="684.3" width="10" height="10.3"/><rect x="1331.58" y="681.95" width="10" height="10.3"/><rect x="1341.16" y="684.89" width="10" height="10.3"/><rect x="1350.75" y="680.78" width="10" height="10.3"/><rect x="1360.34" y="680.78" width="10" height="10.3"/></g>
<path d="M838 530.24l5.5 10.2h-11zM847.59 578.44l5.5 10.2h-11zM857.18 617.24l5.5 10.2h-11zM866.76 652.51l5.5 10.2h-11zM876.35 700.71l5.5 10.2h-11zM885.94 746.56l5.5 10.2h-11zM895.53 766.55l5.5 10.2h-11zM905.12 794.77l5.5 10.2h-11zM914.7 808.87l5.5 10.2h-11zM924.29 815.93l5.5 10.2h-11zM933.88 820.63l5.5 10.2h-11zM943.47 820.63l5.5 10.2h-11zM953.06 815.93l5.5 10.2h-11zM962.64 807.7l5.5 10.2h-11zM972.23 793.59l5.5 10.2h-11zM981.82 788.89l5.5 10.2h-11zM991.41 780.66l5.5 10.2h-11zM1001 770.08l5.5 10.2h-11zM1010.58 759.26l5.5 10.2h-11zM1020.17 762.79l5.5 10.2h-11zM1029.76 755.73l5.5 10.2h-11zM1039.35 754.56l5.5 10.2h-11zM1048.94 752.21l5.5 10.2h-11zM1058.52 749.85l5.5 10.2h-11zM1068.11 747.5l5.5 10.2h-11zM1077.7 751.03l5.5 10.2h-11zM1087.29 745.15l5.5 10.2h-11zM1096.88 742.8l5.5 10.2h-11zM1106.46 742.8l5.5 10.2h-11zM1116.05 739.27l5.5 10.2h-11zM1125.64 738.1l5.5 10.2h-11zM1135.23 735.75l5.5 10.2h-11zM1144.82 731.04l5.5 10.2h-11zM1154.4 726.34l5.5 10.2h-11zM1163.99 723.99l5.5 10.2h-11zM1173.58 719.29l5.5 10.2h-11zM1183.17 715.76l5.5 10.2h-11zM1192.76 711.06l5.5 10.2h-11zM1202.34 708.71l5.5 10.2h-11zM1211.93 704l5.5 10.2h-11zM1221.52 698.13l5.5 10.2h-11zM1231.11 696.95l5.5 10.2h-11zM1240.7 693.42l5.5 10.2h-11zM1250.28 691.07l5.5 10.2h-11zM1259.87 688.72l5.5 10.2h-11zM1269.46 686.37l5.5 10.2h-11zM1279.05 684.02l5.5 10.2h-11zM1288.64 680.49l5.5 10.2h-11zM1298.22 679.31l5.5 10.2h-11zM1307.81 678.14l5.5 10.2h-11zM1317.4 678.14l5.5 10.2h-11zM1326.99 676.38l5.5 10.2h-11zM1336.58 678.14l5.5 10.2h-11zM1346.16 678.14l5.5 10.2h-11zM1355.75 676.96l5.5 10.2h-11zM1365.34 678.14l5.5 10.2h-11z" fill="#000"/></g>
<text transform="translate(37.9 0) rotate(-90)" font-size="25" font-weight="bold"><tspan x="-616.25" y="0">[</tspan><tspan x="-607.5" y="0">θ</tspan><tspan x="-592.11" y="0">]</tspan><tspan x="-581.35" y="0">×</tspan><tspan x="-567.37" y="0">1</tspan><tspan x="-552.19" y="0">0</tspan><tspan x="-536.46" y="-15.2" font-size="17">-</tspan><tspan x="-530.26" y="-15.2" font-size="17">4</tspan><tspan x="-511.25" y="0">(</tspan><tspan x="-500.43" y="0">d</tspan><tspan x="-484.58" y="0">e</tspan><tspan x="-468.33" y="0">g</tspan><tspan x="-446.62" y="0">·</tspan><tspan x="-439.78" y="0">c</tspan><tspan x="-425.25" y="0">m</tspan><tspan x="-398.64" y="-15.2" font-size="17">2</tspan><tspan x="-386.22" y="0">·</tspan><tspan x="-377.73" y="0">d</tspan><tspan x="-361.95" y="0">m</tspan><tspan x="-337.68" y="0">o</tspan><tspan x="-320.25" y="0">l</tspan><tspan x="-309.16" y="-15.2" font-size="17">-</tspan><tspan x="-304.37" y="-15.2" font-size="17">1</tspan><tspan x="-294.22" y="0">)</tspan></text>
<text x="631.78 655.87 670.4 688.57 706.85 714.12 730.85 748.07 764.59 775.75 790 799.35 809.45 825.5 850.18" y="972.2" font-size="25" font-weight="bold">Wavelength (nm)</text>
</svg>
</body></html>
